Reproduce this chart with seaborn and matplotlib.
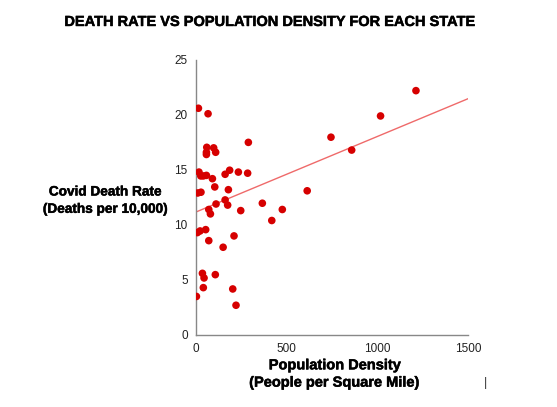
import matplotlib
matplotlib.use("Agg")
import matplotlib.pyplot as plt
import matplotlib.patheffects as pe
import seaborn as sns
import pandas as pd

density = [13, 66, 59, 57, 57, 97, 108, 288, 16, 26, 40, 57, 90, 103, 9, 27,
           160, 185, 233, 284, 178, 160, 174, 110, 70, 79, 246, 365, 475, 417,
           7, 22, 53, 70, 149, 209, 35, 44, 106, 40, 202, 220, 2,
           1211, 1016, 743, 857, 612]
death_rate = [20.6, 20.1, 17.05, 16.6, 16.4, 17.0, 16.6, 17.5, 14.8, 14.45, 14.45, 14.5, 14.2, 13.45, 12.9, 12.97,
              14.6, 14.97, 14.8, 14.7, 13.2, 12.27, 11.8, 11.9, 11.4, 11.0, 11.3, 11.97, 11.4, 10.4,
              9.3, 9.45, 9.57, 8.57, 7.97, 9.0, 5.6, 5.18, 5.48, 4.3, 4.18, 2.7, 3.5,
              22.2, 19.9, 17.97, 16.8, 13.1]

xticks = [0, 500, 1000, 1500]
yticks = [0, 5, 10, 15, 20, 25]

df = pd.DataFrame({"density": density, "rate": death_rate})

sns.set_style("white")
plt.rcParams["font.family"] = ["Liberation Sans", "DejaVu Sans"]
plt.rcParams["text.color"] = "black"

fig = plt.figure(figsize=(5.57, 4.07), dpi=100)
ax = fig.add_axes([0.352, 0.177, 0.489, 0.676])
ax.set_xlim(0, 1500)
ax.set_ylim(0, 25)

sns.regplot(data=df, x="density", y="rate", ax=ax, ci=None, truncate=False,
            scatter_kws=dict(s=30, color="#d60000", edgecolor="none", alpha=1, zorder=3),
            line_kws=dict(color="#ef6a6a", lw=1, zorder=2))

ax.set_xlim(0, 1500)
ax.set_ylim(0, 25)
ax.set_xticks(xticks)
ax.set_yticks(yticks)
ax.tick_params(axis="both", direction="out", length=3, width=1, color="#888888",
               labelsize=8.5, pad=3, labelcolor="#222222")
for s in ["top", "right"]:
    ax.spines[s].set_visible(False)
for s in ["left", "bottom"]:
    ax.spines[s].set_color("#888888")
    ax.spines[s].set_linewidth(1)

heavy = [pe.withStroke(linewidth=0.35, foreground="black")]
ax.set_xlabel("Population Density\n(People per Square Mile)", fontsize=10.5,
              fontweight="bold", linespacing=1.3, color="black", path_effects=heavy)
ax.set_ylabel("Covid Death Rate\n(Deaths per 10,000)", fontsize=9.8,
              fontweight="bold", rotation=0, ha="center", va="center", linespacing=1.3,
              color="black", path_effects=heavy)
ax.xaxis.set_label_coords(0.51, -0.085)
ax.yaxis.set_label_coords(-0.334, 0.49)

fig.text(0.486, 0.946, "DEATH RATE VS POPULATION DENSITY FOR EACH STATE",
         ha="center", va="center", fontsize=10.5, fontweight="bold", color="black",
         path_effects=heavy)
fig.text(0.871, 0.06, "|", ha="center", va="center", fontsize=9, color="#333333")

fig.savefig("out.png", dpi=100)
